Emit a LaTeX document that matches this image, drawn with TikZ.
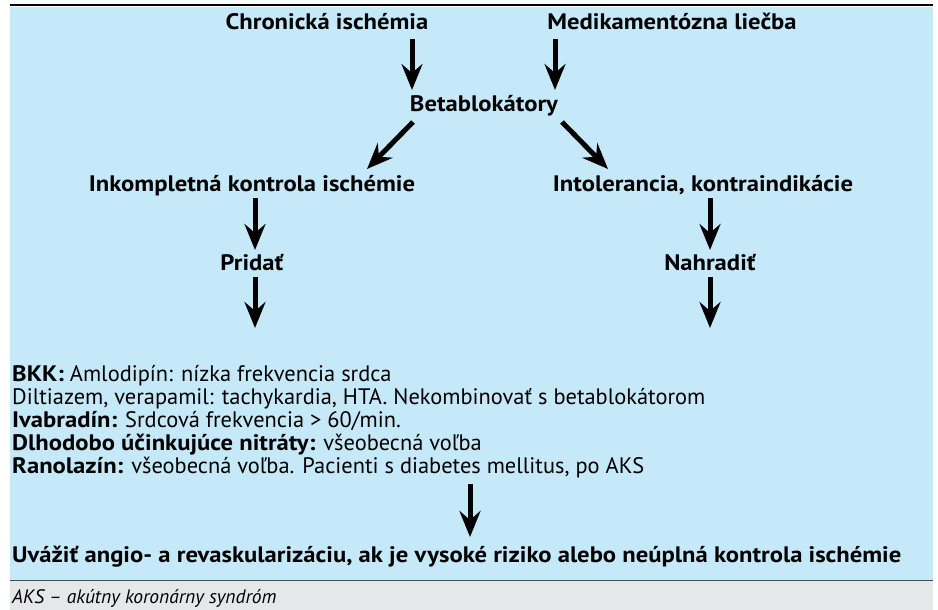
\documentclass[tikz,border=0pt]{standalone}
\usepackage{fontspec}
\setmainfont{PT Sans}[BoldFeatures={FakeStretch=1.1}]
\usetikzlibrary{arrows.meta}
\definecolor{bgblue}{HTML}{C5E9F8}
\definecolor{notegray}{HTML}{E6E7E8}
\begin{document}
\begin{tikzpicture}[x=1pt,y=-1pt,
  hd/.style={font=\fontsize{22.4}{26}\selectfont\bfseries, inner sep=0pt, anchor=base},
  tx/.style={font=\fontsize{22.4}{26}\selectfont, inner sep=0pt, anchor=base west},
  arr/.style={line width=5pt, -{Stealth[length=26pt,width=21pt,inset=9pt]}}]
\useasboundingbox (0,0) rectangle (938,610);
\fill[bgblue] (10,7) rectangle (933,580);
\fill[notegray] (10,580) rectangle (933,610);
\draw[line width=2.5pt] (10,5) -- (933,5);
\draw[line width=1pt, black!70] (10,580.5) -- (933,580.5);

\node[hd] (chron) at (327,30) {Chronická ischémia};
\node[hd] (medik) at (672,30) {Medikamentózna liečba};
\node[hd] (beta) at (484,112) {Betablokátory};
\node[hd] (inkom) at (252,191) {Inkompletná kontrola ischémie};
\node[hd] (intol) at (703,191) {Intolerancia, kontraindikácie};
\node[hd] (prid) at (252,270) {Pridať};
\node[hd] (nahr) at (710,270) {Nahradiť};

\node[tx] (l1) at (12,381) {\textbf{BKK:} Amlodipín: nízka frekvencia srdca};
\node[tx] (l2) at (12,404) {Diltiazem, verapamil: tachykardia, HTA. Nekombinovať s betablokátorom};
\node[tx] (l3) at (12,427) {\textbf{Ivabradín:} Srdcová frekvencia > 60/min.};
\node[tx] (l4) at (12,450) {\textbf{Dlhodobo účinkujúce nitráty:} všeobecná voľba};
\node[tx] (l5) at (12,473) {\textbf{Ranolazín:} všeobecná voľba. Pacienti s diabetes mellitus, po AKS};
\node[tx, font=\fontsize{22.4}{26}\selectfont\bfseries] (uvaz) at (12,562) {Uvážiť angio- a revaskularizáciu, ak je vysoké riziko alebo neúplná kontrola ischémie};
\node[tx, font=\fontsize{19.5}{23}\selectfont\itshape] (aks) at (12,603) {AKS – akútny koronárny syndróm};

\coordinate (a1s) at (412,39); \coordinate (a1e) at (412,90);
\coordinate (a2s) at (555,39); \coordinate (a2e) at (555,90);
\coordinate (a3s) at (413,122); \coordinate (a3e) at (367,169);
\coordinate (a4s) at (562,122); \coordinate (a4e) at (608,169);
\coordinate (a5s) at (255,198); \coordinate (a5e) at (255,250);
\coordinate (a6s) at (255,277); \coordinate (a6e) at (255,328);
\coordinate (a7s) at (710,198); \coordinate (a7e) at (710,250);
\coordinate (a8s) at (710,277); \coordinate (a8e) at (710,328);
\coordinate (a9s) at (470,484); \coordinate (a9e) at (470,537);
\foreach \i in {1,...,9} {\draw[arr] (a\i s) -- (a\i e);}
\end{tikzpicture}
\end{document}
